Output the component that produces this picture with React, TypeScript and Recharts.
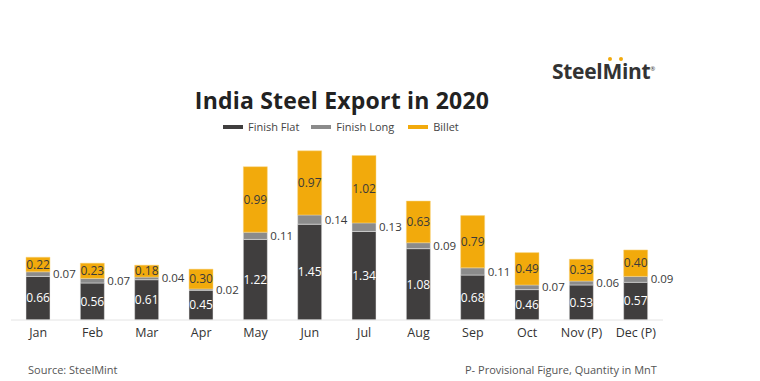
import React from 'react';
import { BarChart, Bar, XAxis, YAxis, LabelList } from 'recharts';

const months = ['Jan', 'Feb', 'Mar', 'Apr', 'May', 'Jun', 'Jul', 'Aug', 'Sep', 'Oct', 'Nov (P)', 'Dec (P)'];
const finishFlat = [0.66, 0.56, 0.61, 0.45, 1.22, 1.45, 1.34, 1.08, 0.68, 0.46, 0.53, 0.57];
const finishLong = [0.07, 0.07, 0.04, 0.02, 0.11, 0.14, 0.13, 0.09, 0.11, 0.07, 0.06, 0.09];
const billet = [0.22, 0.23, 0.18, 0.30, 0.99, 0.97, 1.02, 0.63, 0.79, 0.49, 0.33, 0.40];

const data = months.map((m, i) => ({ month: m, flat: finishFlat[i], long: finishLong[i], billet: billet[i] }));

const FONT = '"Open Sans", "Noto Sans", sans-serif';
const C_FLAT = '#403e3e';
const C_LONG = '#8b8b8b';
const C_BILLET = '#f2aa0c';

const fmt = (v: any) => Number(v).toFixed(2);

export default function App() {
  return (
    <div style={{ position: 'absolute', left: 0, top: 0, width: 760, height: 381, background: '#fff', fontFamily: FONT }}>
      <BarChart width={760} height={381} data={data} margin={{ top: 135, right: 97, bottom: 31, left: 11 }}>
        <XAxis dataKey="month" axisLine={{ stroke: '#e4e4e4' }} tickLine={false} height={30}
          tick={{ fill: '#333', fontSize: 12.5, fontFamily: FONT }} interval={0} />
        <YAxis hide domain={[0, 2.8]} />
        <Bar dataKey="flat" stackId="a" fill={C_FLAT} barSize={24} isAnimationActive={false} stroke="#e8e8e8" strokeWidth={0.5}>
          <LabelList dataKey="flat" position="center" formatter={fmt} fill="#ffffff" fontSize={12} fontFamily={FONT} />
        </Bar>
        <Bar dataKey="long" stackId="a" fill={C_LONG} barSize={24} isAnimationActive={false} stroke="#e8e8e8" strokeWidth={0.5}>
          <LabelList dataKey="long" position="right" offset={3} formatter={fmt} fill="#3a3a3a" fontSize={11.5} fontFamily={FONT} />
        </Bar>
        <Bar dataKey="billet" stackId="a" fill={C_BILLET} barSize={24} isAnimationActive={false} stroke="#f6d580" strokeWidth={0.5}>
          <LabelList dataKey="billet" position="center" formatter={fmt} fill="#3a3a3a" fontSize={12} fontFamily={FONT} />
        </Bar>
      </BarChart>

      <div style={{ position: 'absolute', left: 0, width: 684, top: 84, textAlign: 'center', fontSize: 23, fontWeight: 700, color: '#222', letterSpacing: 0.2 }}>
        India Steel Export in 2020
      </div>

      <div style={{ position: 'absolute', left: 223, top: 119, display: 'flex', alignItems: 'center', fontSize: 11, color: '#444' }}>
        <span style={{ display: 'inline-block', width: 20, height: 4, background: C_FLAT, marginRight: 5 }} />
        <span style={{ marginRight: 12 }}>Finish Flat</span>
        <span style={{ display: 'inline-block', width: 20, height: 4, background: C_LONG, marginRight: 5 }} />
        <span style={{ marginRight: 14 }}>Finish Long</span>
        <span style={{ display: 'inline-block', width: 20, height: 4, background: C_BILLET, marginRight: 5 }} />
        <span>Billet</span>
      </div>

      <div style={{ position: 'absolute', left: 552, top: 57, fontSize: 21, fontWeight: 700, color: '#333', letterSpacing: -0.3 }}>
        SteelMint<sup style={{ fontSize: 6, fontWeight: 400 }}>®</sup>
      </div>
      <div style={{ position: 'absolute', left: 608, top: 57, width: 4, height: 4, borderRadius: 2, background: C_BILLET }} />
      <div style={{ position: 'absolute', left: 619, top: 57, width: 4, height: 4, borderRadius: 2, background: C_BILLET }} />

      <div style={{ position: 'absolute', left: 28, top: 362, fontSize: 11, color: '#555' }}>Source: SteelMint</div>
      <div style={{ position: 'absolute', left: 465, top: 362, fontSize: 11, color: '#555' }}>P- Provisional Figure, Quantity in MnT</div>
    </div>
  );
}
